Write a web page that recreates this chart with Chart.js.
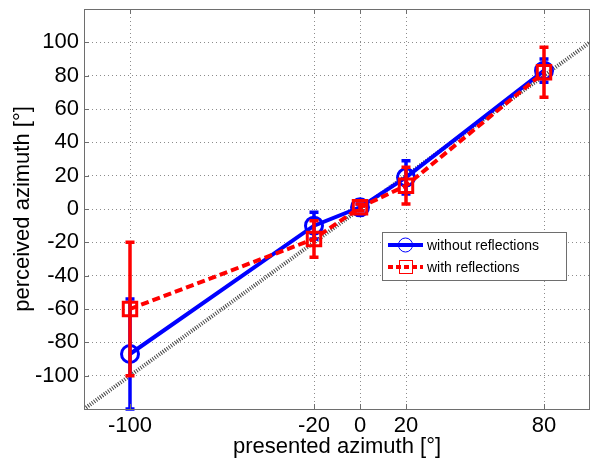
<!DOCTYPE html>
<html>
<head>
<meta charset="utf-8">
<script src="https://cdn.jsdelivr.net/npm/chart.js@4"></script>
<style>
  body { margin: 0; background: #fff; }
  #wrap { width: 590px; height: 460px; }
</style>
</head>
<body>
<div id="wrap"><canvas id="azChart" width="590" height="460"></canvas></div>
<script>
// presented azimuth (deg)
const presented = [-100, -20, 0, 20, 80];
// perceived azimuth, mean and error (deg)
const withoutRefl = [-87, -10, 1, 19, 83];
const withoutErr = [33, 8, 2, 10, 7];
const withRefl = [-60, -18, 1, 14, 82];
const withErr = [40, 11, 2, 11, 15];
// reference diagonal y = x
const diagX = [-120, 100];
const diagY = [-120, 100];
const xTicks = [-100, -20, 0, 20, 80];
const yTicks = [-100, -80, -60, -40, -20, 0, 20, 40, 60, 80, 100];
const legendLabels = ["without reflections", "with reflections"];

const FONT = "'Liberation Sans', Arial, sans-serif";
const BLUE = "#0000ff";
const RED = "#ff0000";

function toPoints(xs, ys) {
  return xs.map((x, i) => ({ x: x, y: ys[i] }));
}

// error bars drawn through the scales
const errorBars = {
  id: "errorBars",
  afterDatasetDraw(chart, args) {
    const ds = chart.data.datasets[args.index];
    if (!ds.errors) return;
    const { ctx, scales } = chart;
    ctx.save();
    ctx.strokeStyle = ds.errColor;
    ctx.lineWidth = 3.5;
    ctx.setLineDash([]);
    ds.data.forEach((p, i) => {
      const x = scales.x.getPixelForValue(p.x);
      const yTop = scales.y.getPixelForValue(p.y + ds.errors[i]);
      const yBot = scales.y.getPixelForValue(p.y - ds.errors[i]);
      ctx.beginPath();
      ctx.moveTo(x, yTop); ctx.lineTo(x, yBot);
      ctx.moveTo(x - 4.5, yTop); ctx.lineTo(x + 4.5, yTop);
      ctx.moveTo(x - 4.5, yBot); ctx.lineTo(x + 4.5, yBot);
      ctx.stroke();
    });
    ctx.restore();
  }
};

// axes box, inward ticks and legend in MATLAB style
const frame = {
  id: "frame",
  afterDraw(chart) {
    const { ctx, chartArea: a, scales } = chart;
    ctx.save();
    ctx.setLineDash([]);
    ctx.strokeStyle = "#6e6e6e";
    ctx.lineWidth = 1;
    ctx.strokeRect(a.left + 0.5, a.top + 0.5, a.right - a.left - 1, a.bottom - a.top);
    ctx.beginPath();
    xTicks.forEach(v => {
      const x = Math.round(scales.x.getPixelForValue(v)) + 0.5;
      ctx.moveTo(x, a.bottom); ctx.lineTo(x, a.bottom - 5);
      ctx.moveTo(x, a.top); ctx.lineTo(x, a.top + 5);
    });
    yTicks.forEach(v => {
      const y = Math.round(scales.y.getPixelForValue(v)) + 0.5;
      ctx.moveTo(a.left, y); ctx.lineTo(a.left + 5, y);
    });
    ctx.stroke();

    // legend
    const lx = 382, ly = 232, lw = 184, lh = 48;
    ctx.fillStyle = "#fff";
    ctx.fillRect(lx, ly, lw, lh);
    ctx.strokeStyle = "#6e6e6e";
    ctx.strokeRect(lx + 0.5, ly + 0.5, lw, lh);
    const rows = [ly + 13, ly + 35];
    ctx.font = "14px " + FONT;
    ctx.textBaseline = "middle";
    ctx.fillStyle = "#000";
    // row 1
    ctx.strokeStyle = BLUE;
    ctx.lineWidth = 4;
    ctx.beginPath(); ctx.moveTo(388, rows[0]); ctx.lineTo(423, rows[0]); ctx.stroke();
    ctx.lineWidth = 1;
    ctx.beginPath(); ctx.arc(405.5, rows[0], 7, 0, Math.PI * 2); ctx.stroke();
    ctx.fillText(legendLabels[0], 427, rows[0] + 1);
    // row 2
    ctx.strokeStyle = RED;
    ctx.lineWidth = 4;
    ctx.setLineDash([5, 3]);
    ctx.beginPath(); ctx.moveTo(388, rows[1]); ctx.lineTo(423, rows[1]); ctx.stroke();
    ctx.setLineDash([]);
    ctx.lineWidth = 1;
    ctx.strokeRect(399.5, rows[1] - 6.5, 13, 13);
    ctx.fillText(legendLabels[1], 427, rows[1] + 1);
    ctx.restore();
  }
};

const gridOpts = {
  color: "rgba(0,0,0,0.45)",
  lineWidth: 1,
  drawTicks: false
};

new Chart(document.getElementById("azChart"), {
  type: "scatter",
  data: {
    datasets: [
      {
        data: toPoints(diagX, diagY),
        order: 2,
        showLine: true,
        borderColor: "#444",
        borderWidth: 4,
        borderDash: [1, 1.5],
        pointRadius: 0
      },
      {
        label: legendLabels[0],
        data: toPoints(presented, withoutRefl),
        order: 1,
        errors: withoutErr,
        errColor: BLUE,
        showLine: true,
        borderColor: BLUE,
        borderWidth: 4,
        pointStyle: "circle",
        pointRadius: 8.5,
        pointBorderWidth: 3,
        pointBorderColor: BLUE,
        pointBackgroundColor: "rgba(0,0,0,0)"
      },
      {
        label: legendLabels[1],
        data: toPoints(presented, withRefl),
        order: 0,
        errors: withErr,
        errColor: RED,
        showLine: true,
        borderColor: RED,
        borderWidth: 4,
        borderDash: [8, 4],
        pointStyle: "rect",
        pointRadius: 9.5,
        pointBorderWidth: 3,
        pointBorderColor: RED,
        pointBackgroundColor: "rgba(0,0,0,0)"
      }
    ]
  },
  options: {
    responsive: false,
    animation: false,
    layout: { autoPadding: false, padding: { top: 9, right: 0, left: 0, bottom: 0 } },
    plugins: {
      legend: { display: false },
      tooltip: { enabled: false }
    },
    scales: {
      x: {
        type: "linear",
        min: -120,
        max: 100,
        afterBuildTicks: s => { s.ticks = xTicks.map(v => ({ value: v })); },
        afterFit: s => { s.height = 51; s.paddingLeft = 0; s.paddingRight = 0; },
        grid: gridOpts,
        border: { display: false, dash: [1, 3] },
        ticks: { color: "#000", padding: 4, maxRotation: 0, font: { family: FONT, size: 22 } },
        title: { display: true, text: "presented azimuth [°]", color: "#000", padding: 0, font: { family: FONT, size: 22 } }
      },
      y: {
        min: -120,
        max: 120,
        afterBuildTicks: s => { s.ticks = yTicks.map(v => ({ value: v })); },
        afterFit: s => { s.width = 84; s.paddingTop = 0; s.paddingBottom = 0; },
        grid: gridOpts,
        border: { display: false, dash: [1, 3] },
        ticks: { color: "#000", padding: 5, font: { family: FONT, size: 22 } },
        title: { display: true, text: "perceived azimuth [°]", color: "#000", padding: { top: 10, bottom: 0 }, font: { family: FONT, size: 22 } }
      }
    }
  },
  plugins: [errorBars, frame]
});
</script>
</body>
</html>
